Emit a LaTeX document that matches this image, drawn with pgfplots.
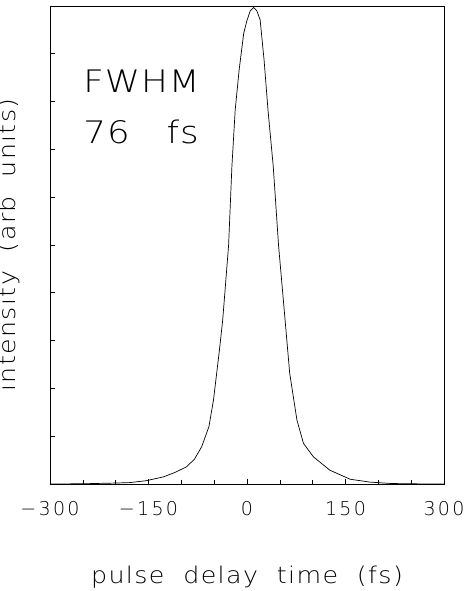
\documentclass[border=0pt]{standalone}
\usepackage{fontspec}
\setmainfont{DejaVu Sans}[UprightFont={* ExtraLight}]
\usepackage{pgfplots}
\pgfplotsset{compat=1.18}
\begin{document}
\begin{tikzpicture}
\path[use as bounding box] (-50pt,-107pt) rectangle (418pt,484pt);
\begin{axis}[
  at={(0pt,0pt)}, anchor=south west,
  scale only axis, width=394pt, height=478pt,
  xmin=-300, xmax=300, ymin=0, ymax=1,
  xtick={-300,-150,0,150,300},
  xticklabels={−300,−150,0,150,300},
  minor xtick={-250,-200,-100,-50,50,100,200,250},
  ytick={0.1,0.2,0.3,0.4,0.5,0.6,0.7,0.8,0.9},
  yticklabels={},
  xtick pos=bottom, ytick pos=left,
  tick align=inside,
  major tick length=5pt, minor tick length=4pt,
  axis line style={line width=0.7pt},
  every tick/.style={line width=0.6pt, black},
  xticklabel style={font=\fontsize{19}{19}\selectfont\addfontfeature{LetterSpace=12}, yshift=-14pt},
  xlabel={pulse\ \ delay\ \ time\ \ (fs)},
  ylabel={intensity\ \ (arb\ \ units)},
  xlabel style={font=\fontsize{23}{23}\selectfont\addfontfeature{FakeStretch=1.1,LetterSpace=6}, at={(0.5,0)}, anchor=base, yshift=-99pt},
  ylabel style={font=\fontsize{23}{23}\selectfont\addfontfeature{FakeStretch=1.1,LetterSpace=6}, at={(0,0.5)}, anchor=base, yshift=34pt},
]
\addplot[black, line width=0.7pt] coordinates {
(-300,0) (-250,0.0005) (-200,0.002) (-178,0.003) (-153,0.007) (-127,0.015)
(-110,0.024) (-92,0.036) (-80,0.052) (-69,0.078) (-58,0.120) (-51,0.176)
(-42,0.280) (-37,0.343) (-28,0.50) (-23,0.664) (-18,0.782) (-12,0.866)
(-5,0.943) (0,0.970) (5,0.99) (10,0.997) (15,0.99) (20,0.971) (26,0.887)
(32,0.782) (40,0.664) (48,0.50) (58,0.343) (65,0.232) (76,0.134) (86,0.085)
(101,0.057) (126,0.029) (157,0.010) (187,0.004) (220,0.001) (260,0.0003) (300,0)
};
\node[anchor=base west, font=\fontsize{31}{31}\selectfont\addfontfeature{FakeStretch=1.15,LetterSpace=3}] at (rel axis cs:0.076,0.818) {FWHM};
\node[anchor=base west, font=\fontsize{31}{31}\selectfont\addfontfeature{FakeStretch=1.15,LetterSpace=3}] at (rel axis cs:0.076,0.713) {76\ \ \ fs};
\end{axis}
\end{tikzpicture}
\end{document}
